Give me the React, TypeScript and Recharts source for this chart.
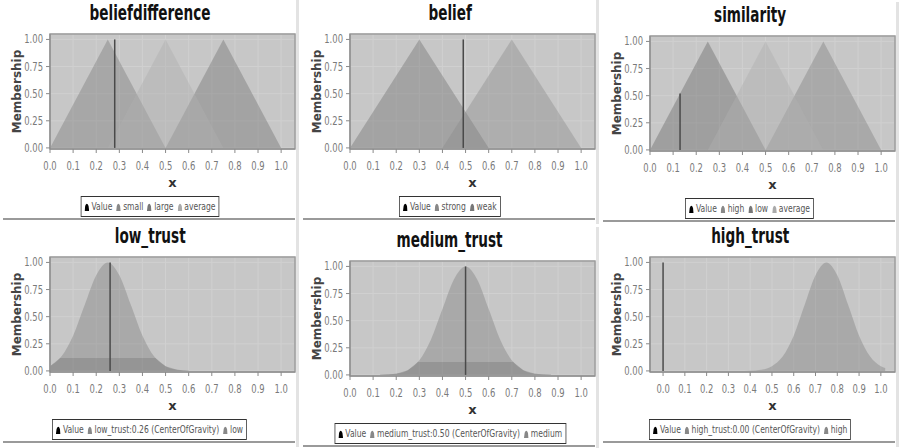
import React from "react";
import { ComposedChart, Area, Line, XAxis, YAxis, CartesianGrid, ReferenceArea } from "recharts";

type Pt = { x: number; y: number };

const X_TICKS = [0, 0.1, 0.2, 0.3, 0.4, 0.5, 0.6, 0.7, 0.8, 0.9, 1.0];
const Y_TICKS = [0, 0.25, 0.5, 0.75, 1.0];

// beliefdifference
const bdSmall: Pt[] = [{ x: 0, y: 0 }, { x: 0.25, y: 1 }, { x: 0.5, y: 0 }];
const bdLarge: Pt[] = [{ x: 0.5, y: 0 }, { x: 0.75, y: 1 }, { x: 1.0, y: 0 }];
const bdAverage: Pt[] = [{ x: 0.25, y: 0 }, { x: 0.5, y: 1 }, { x: 0.75, y: 0 }];
const bdValue: Pt[] = [{ x: 0.28, y: 0 }, { x: 0.28, y: 1 }];

// belief
const beStrong: Pt[] = [{ x: 0, y: 0 }, { x: 0.3, y: 1 }, { x: 0.6, y: 0 }];
const beWeak: Pt[] = [{ x: 0.4, y: 0 }, { x: 0.7, y: 1 }, { x: 1.0, y: 0 }];
const beValue: Pt[] = [{ x: 0.49, y: 0 }, { x: 0.49, y: 1 }];

// similarity
const siHigh: Pt[] = [{ x: 0.5, y: 0 }, { x: 0.75, y: 1 }, { x: 1.0, y: 0 }];
const siLow: Pt[] = [{ x: 0, y: 0 }, { x: 0.25, y: 1 }, { x: 0.5, y: 0 }];
const siAverage: Pt[] = [{ x: 0.25, y: 0 }, { x: 0.5, y: 1 }, { x: 0.75, y: 0 }];
const siValue: Pt[] = [{ x: 0.13, y: 0 }, { x: 0.13, y: 0.52 }];

// low_trust
const ltLow: Pt[] = [
  { x: 0, y: 0.044 }, { x: 0.05, y: 0.135 }, { x: 0.1, y: 0.325 }, { x: 0.15, y: 0.607 },
  { x: 0.2, y: 0.882 }, { x: 0.25, y: 1.0 }, { x: 0.3, y: 0.882 }, { x: 0.35, y: 0.607 },
  { x: 0.4, y: 0.325 }, { x: 0.45, y: 0.135 }, { x: 0.5, y: 0.044 }, { x: 0.55, y: 0.011 },
  { x: 0.6, y: 0.002 },
];
const ltOut: Pt[] = [
  { x: 0, y: 0.044 }, { x: 0.044, y: 0.12 }, { x: 0.456, y: 0.12 }, { x: 0.5, y: 0.044 },
  { x: 0.55, y: 0.011 }, { x: 0.6, y: 0.002 },
];
const ltValue: Pt[] = [{ x: 0.26, y: 0 }, { x: 0.26, y: 1 }];

// medium_trust
const mtMedium: Pt[] = [
  { x: 0.13, y: 0.001 }, { x: 0.2, y: 0.011 }, { x: 0.25, y: 0.044 }, { x: 0.3, y: 0.135 },
  { x: 0.35, y: 0.325 }, { x: 0.4, y: 0.607 }, { x: 0.45, y: 0.882 }, { x: 0.5, y: 1.0 },
  { x: 0.55, y: 0.882 }, { x: 0.6, y: 0.607 }, { x: 0.65, y: 0.325 }, { x: 0.7, y: 0.135 },
  { x: 0.75, y: 0.044 }, { x: 0.8, y: 0.011 }, { x: 0.87, y: 0.001 },
];
const mtOut: Pt[] = [
  { x: 0.13, y: 0.001 }, { x: 0.2, y: 0.011 }, { x: 0.25, y: 0.044 }, { x: 0.294, y: 0.12 },
  { x: 0.706, y: 0.12 }, { x: 0.75, y: 0.044 }, { x: 0.8, y: 0.011 }, { x: 0.87, y: 0.001 },
];
const mtValue: Pt[] = [{ x: 0.5, y: 0 }, { x: 0.5, y: 1 }];

// high_trust
const htHigh: Pt[] = [
  { x: 0.35, y: 0.0 }, { x: 0.4, y: 0.002 }, { x: 0.45, y: 0.011 }, { x: 0.5, y: 0.044 },
  { x: 0.55, y: 0.135 }, { x: 0.6, y: 0.325 }, { x: 0.65, y: 0.607 }, { x: 0.7, y: 0.882 },
  { x: 0.75, y: 1.0 }, { x: 0.8, y: 0.882 }, { x: 0.85, y: 0.607 }, { x: 0.9, y: 0.325 },
  { x: 0.95, y: 0.135 }, { x: 1.0, y: 0.044 }, { x: 1.02, y: 0.026 },
];
const htOut: Pt[] = [];
const htValue: Pt[] = [{ x: 0, y: 0 }, { x: 0, y: 1 }];

const NARROW = "'DejaVu Sans Condensed', 'Liberation Sans', sans-serif";

interface Series {
  name: string;
  data: Pt[];
  fill: string;
  opacity: number;
  curve: "linear" | "monotone";
  icon: string;
}

interface PanelProps {
  title: string;
  left: number;
  top: number;
  width: number;
  series: Series[];
  value: Pt[];
  xDomain: [number, number];
}

const XTick = (props: any) => {
  const { x, y, payload } = props;
  return (
    <g transform={`translate(${x},${y})`}>
      <text transform="scale(0.78,1)" textAnchor="middle" dy={14} fill="#7a7a7a" fontSize={12} fontFamily={NARROW}>
        {Number(payload.value).toFixed(1)}
      </text>
    </g>
  );
};

const YTick = (props: any) => {
  const { x, y, payload } = props;
  return (
    <g transform={`translate(${x},${y})`}>
      <text transform="scale(0.78,1)" textAnchor="end" dy={4} fill="#7a7a7a" fontSize={12} fontFamily={NARROW}>
        {Number(payload.value).toFixed(2)}
      </text>
    </g>
  );
};

const Bell = ({ color }: { color: string }) => (
  <svg width={6} height={8} style={{ marginRight: 3, verticalAlign: "-1px" }}>
    <path d="M0,8 L0.8,3 Q3,-1.5 5.2,3 L6,8 Z" fill={color} />
  </svg>
);

const Panel = ({ title, left, top, width, series, value, xDomain }: PanelProps) => {
  const yDomain: [number, number] = [-0.01, 1.05];
  return (
    <div style={{ position: "absolute", left, top, width, height: 224 }}>
      <div
        style={{
          position: "absolute", left: 0, top: 1, width: 300, textAlign: "center",
        }}
      >
        <span
          style={{
            display: "inline-block", transform: "scaleX(0.72)",
            fontFamily: NARROW, fontWeight: "bold", fontSize: 21, color: "#111",
          }}
        >
          {title}
        </span>
      </div>
      <div style={{ position: "absolute", left: 0, top: 0 }}>
        <ComposedChart width={300} height={224} margin={{ top: 34, right: 5, left: 0, bottom: 35 }}>
          <CartesianGrid fill="#c7c7c7" stroke="#d0d0d0" />
          <XAxis
            type="number"
            dataKey="x"
            domain={xDomain}
            ticks={X_TICKS}
            interval={0}
            allowDataOverflow
            height={40}
            tickSize={4}
            tickMargin={3}
            stroke="#8a8a8a"
            tick={<XTick />}
            label={{
              value: "x", position: "insideBottom", offset: 2,
              style: { fill: "#333", fontSize: 13, fontWeight: "bold", fontFamily: "DejaVu Sans" },
            }}
          />
          <YAxis
            type="number"
            domain={yDomain}
            ticks={Y_TICKS}
            interval={0}
            allowDataOverflow
            width={50}
            tickSize={4}
            tickMargin={3}
            stroke="#8a8a8a"
            tick={<YTick />}
            label={{
              value: "Membership", angle: -90, position: "insideLeft", offset: 17,
              style: { textAnchor: "middle", fill: "#444", fontSize: 12, fontWeight: "bold", fontFamily: "DejaVu Sans" },
            }}
          />
          {series.map((s) => (
            <Area
              key={s.name}
              data={s.data}
              dataKey="y"
              name={s.name}
              type={s.curve}
              stroke="none"
              fill={s.fill}
              fillOpacity={s.opacity}
              baseValue={0}
              isAnimationActive={false}
              activeDot={false}
            />
          ))}
          <Line
            data={value}
            dataKey="y"
            name="Value"
            type="linear"
            stroke="#4a4a4a"
            strokeWidth={1.5}
            dot={false}
            activeDot={false}
            isAnimationActive={false}
          />
          <ReferenceArea
            x1={xDomain[0]} x2={xDomain[1]} y1={yDomain[0]} y2={yDomain[1]}
            fill="none" stroke="#9c9c9c" strokeWidth={1.5} ifOverflow="extendDomain"
          />
        </ComposedChart>
      </div>
      <div
        style={{
          position: "absolute", left: 0, top: 196, width: 300,
          display: "flex", justifyContent: "center",
        }}
      >
        <div
          style={{
            border: "1.5px solid #333", background: "#fff", height: 19, lineHeight: "19px",
            padding: "0 4px", fontFamily: NARROW, fontSize: 11, color: "#555", whiteSpace: "nowrap",
            transform: "scaleX(0.77)",
          }}
        >
          <Bell color="#000" />
          <span style={{ marginRight: 5 }}>Value</span>
          {series.map((s, i) => (
            <React.Fragment key={s.name}>
              <Bell color={s.icon} />
              <span style={{ marginRight: i === series.length - 1 ? 0 : 5 }}>{s.name}</span>
            </React.Fragment>
          ))}
        </div>
      </div>
      <div style={{ position: "absolute", left: 296, top: 0, width: 3, height: 224, background: "#e3e3e3" }} />
      <div style={{ position: "absolute", left: 3, top: 218, width: 292, height: 1.5, background: "#9a9a9a" }} />
    </div>
  );
};

export default function App() {
  return (
    <div style={{ position: "absolute", left: 0, top: 0, width: 904, height: 448, background: "#fff", overflow: "hidden" }}>
      <Panel
        title="beliefdifference" left={0} top={0} width={300} xDomain={[0, 1.06]} value={bdValue}
        series={[
          { name: "small", data: bdSmall, fill: "#7c7c7c", opacity: 0.42, curve: "linear", icon: "#888" },
          { name: "large", data: bdLarge, fill: "#777", opacity: 0.45, curve: "linear", icon: "#777" },
          { name: "average", data: bdAverage, fill: "#b0b0b0", opacity: 0.45, curve: "linear", icon: "#aaa" },
        ]}
      />
      <Panel
        title="belief" left={300} top={0} width={300} xDomain={[0, 1.06]} value={beValue}
        series={[
          { name: "strong", data: beStrong, fill: "#777", opacity: 0.45, curve: "linear", icon: "#888" },
          { name: "weak", data: beWeak, fill: "#8a8a8a", opacity: 0.4, curve: "linear", icon: "#777" },
        ]}
      />
      <Panel
        title="similarity" left={600} top={2} width={304} xDomain={[0, 1.06]} value={siValue}
        series={[
          { name: "high", data: siHigh, fill: "#808080", opacity: 0.42, curve: "linear", icon: "#888" },
          { name: "low", data: siLow, fill: "#6e6e6e", opacity: 0.45, curve: "linear", icon: "#777" },
          { name: "average", data: siAverage, fill: "#b0b0b0", opacity: 0.45, curve: "linear", icon: "#aaa" },
        ]}
      />
      <Panel
        title="low_trust" left={0} top={223} width={300} xDomain={[0, 1.06]} value={ltValue}
        series={[
          { name: "low_trust:0.26 (CenterOfGravity)", data: ltOut, fill: "#6a6a6a", opacity: 0.35, curve: "linear", icon: "#888" },
          { name: "low", data: ltLow, fill: "#7c7c7c", opacity: 0.4, curve: "monotone", icon: "#888" },
        ]}
      />
      <Panel
        title="medium_trust" left={300} top={227} width={300} xDomain={[0, 1.06]} value={mtValue}
        series={[
          { name: "medium_trust:0.50 (CenterOfGravity)", data: mtOut, fill: "#6a6a6a", opacity: 0.35, curve: "linear", icon: "#888" },
          { name: "medium", data: mtMedium, fill: "#7c7c7c", opacity: 0.4, curve: "monotone", icon: "#888" },
        ]}
      />
      <Panel
        title="high_trust" left={600} top={223} width={304} xDomain={[-0.06, 1.065]} value={htValue}
        series={[
          { name: "high_trust:0.00 (CenterOfGravity)", data: htOut, fill: "#6a6a6a", opacity: 0.35, curve: "linear", icon: "#888" },
          { name: "high", data: htHigh, fill: "#7c7c7c", opacity: 0.4, curve: "monotone", icon: "#888" },
        ]}
      />
    </div>
  );
}
